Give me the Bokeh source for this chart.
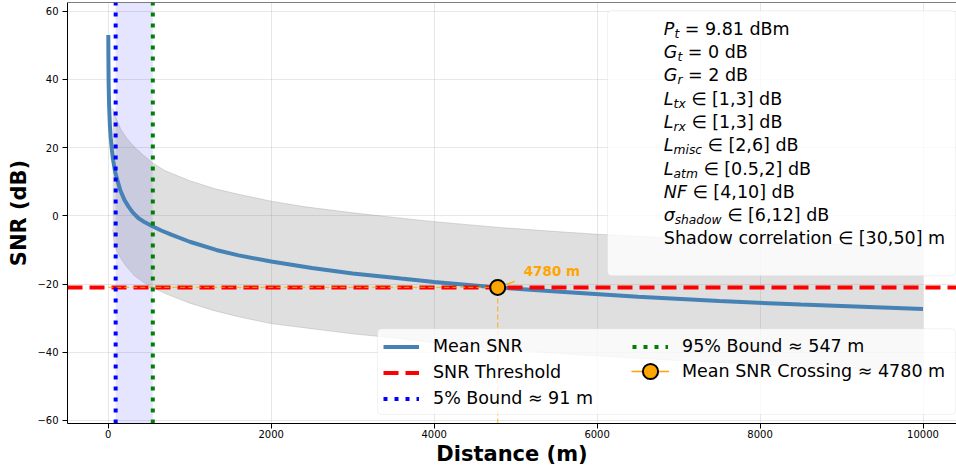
from bokeh.plotting import figure
from bokeh.models import (Range1d, FixedTicker, BoxAnnotation, Label, Legend,
                          LegendItem, Span)
from bokeh.embed import file_html
from bokeh.resources import INLINE

# ---------------- data ----------------
dist_mean = [1, 2, 5, 10, 20, 30, 45, 60, 86, 120, 147, 200, 249, 300, 372, 450,
             536, 650, 781, 1000, 1325, 1600, 2000, 2500, 3000, 3595, 4000, 4780,
             5500, 6500, 7500, 8500, 10000]
snr_mean = [53.0, 47.0, 38.8, 32.8, 26.6, 23.0, 19.3, 16.3, 12.8, 9.8, 7.6, 4.6,
            2.7, 1.0, -0.7, -1.9, -3.0, -4.3, -5.6, -7.6, -10.0, -11.6, -13.4,
            -15.3, -16.9, -18.4, -19.4, -21.0, -22.2, -23.7, -25.0, -26.0, -27.3]

dist_band = [55, 70, 98, 150, 220, 320, 430, 547, 700, 1000, 1300, 1600, 2000,
             2400, 3000, 3600, 4000, 4800, 5500, 6000, 7000, 8000, 9000, 10000]
band_upper = [31.5, 30.0, 28.5, 25.6, 23.0, 20.2, 17.8, 15.5, 13.2, 10.3, 8.0, 6.3,
              4.3, 2.7, 0.9, -0.7, -1.7, -3.4, -4.6, -5.4, -6.6, -7.6, -8.4, -9.1]
band_lower = [-4.0, -7.5, -10.0, -12.3, -14.8, -17.5, -19.5, -21.0, -22.8, -25.6,
              -27.8, -29.6, -31.6, -32.8, -34.6, -36.0, -37.2, -39.0, -40.3, -41.1,
              -42.4, -43.6, -44.6, -45.4]

snr_threshold = -21.0
bound_5 = 91
bound_95 = 547
crossing = 4780

x_ticks = [0, 2000, 4000, 6000, 8000, 10000]
y_ticks = [-60, -40, -20, 0, 20, 40, 60]
y_tick_labels = ["\u221260", "\u221240", "\u221220", "0", "20", "40", "60"]

legend_labels = ["Mean SNR", "SNR Threshold", "5% Bound \u2248 91 m",
                 "95% Bound \u2248 547 m", "Mean SNR Crossing \u2248 4780 m"]
crossing_label = "4780 m"

param_lines = [
    ("P", "t", "= 9.81 dBm"),
    ("G", "t", "= 0 dB"),
    ("G", "r", "= 2 dB"),
    ("L", "tx", "\u2208 [1,3] dB"),
    ("L", "rx", "\u2208 [1,3] dB"),
    ("L", "misc", "\u2208 [2,6] dB"),
    ("L", "atm", "\u2208 [0.5,2] dB"),
    ("NF", "", "\u2208 [4,10] dB"),
    ("\u03c3", "shadow", "\u2208 [6,12] dB"),
    ("", "", "Shadow correlation \u2208 [30,50] m"),
]

# ---------------- layout ----------------
FIG_W, FIG_H = 956, 468
B_LEFT, B_BOTTOM, B_TOP = 67, 44, 2
FRAME_W, FRAME_H = FIG_W - B_LEFT, FIG_H - B_BOTTOM - B_TOP
X_START, X_END = -500, 10411
Y_START, Y_END = -60.88, 62.54
FONT = "DejaVu Sans"

p = figure(width=FIG_W, height=FIG_H, output_backend="svg", toolbar_location=None,
           x_range=Range1d(X_START, X_END), y_range=Range1d(Y_START, Y_END),
           min_border_left=B_LEFT, min_border_right=0, min_border_top=B_TOP,
           min_border_bottom=B_BOTTOM, background_fill_color="white",
           border_fill_color="white")
p.outline_line_color = None

# axes
p.xaxis.ticker = FixedTicker(ticks=x_ticks)
p.yaxis.ticker = FixedTicker(ticks=y_ticks)
p.xgrid.ticker = FixedTicker(ticks=x_ticks)
p.ygrid.ticker = FixedTicker(ticks=y_ticks)
p.yaxis.major_label_overrides = {t: l for t, l in zip(y_ticks, y_tick_labels)}
p.axis.minor_tick_line_color = None
p.axis.major_tick_out = 5
p.axis.major_tick_in = 0
p.axis.major_tick_line_color = "black"
p.axis.axis_line_color = "black"
p.axis.axis_line_width = 1
p.axis.major_label_text_font = FONT
p.axis.major_label_text_font_size = "10px"
p.axis.major_label_text_color = "black"
p.xaxis.major_label_standoff = 1
p.yaxis.major_label_standoff = 4
p.xaxis.axis_label = "Distance (m)"
p.yaxis.axis_label = "SNR (dB)"
p.axis.axis_label_text_font = FONT
p.axis.axis_label_text_font_size = "21px"
p.axis.axis_label_text_font_style = "bold"
p.axis.axis_label_text_color = "black"
p.xaxis.axis_label_standoff = 1
p.yaxis.axis_label_standoff = 3
p.grid.grid_line_color = "#b0b0b0"
p.grid.grid_line_alpha = 0.3
p.grid.grid_line_width = 1

# top spine
p.add_layout(Span(location=Y_END, dimension="width", line_color="black", line_width=1.2))

# shaded region between the bounds
p.add_layout(BoxAnnotation(left=bound_5, right=bound_95, fill_color="blue",
                           fill_alpha=0.1, line_color=None, level="underlay"))

# percentile band
p.varea(x=dist_band, y1=band_lower, y2=band_upper, fill_color="gray", fill_alpha=0.25)
p.line(dist_band, band_upper, line_color="gray", line_alpha=0.25, line_width=1)
p.line(dist_band, band_lower, line_color="gray", line_alpha=0.25, line_width=1)

r_mean = p.line(dist_mean, snr_mean, line_color="#4682b4", line_width=4)
r_thr = p.line([X_START, X_END], [snr_threshold, snr_threshold], line_color="red",
               line_width=4, line_dash="15 7")
p.line([0, crossing], [snr_threshold, snr_threshold], line_color="orange",
       line_width=1.2, line_alpha=0.75, line_dash="5 3")
p.line([crossing, crossing], [Y_START, snr_threshold], line_color="orange",
       line_width=1.2, line_alpha=0.75, line_dash="5 3")
r_b5 = p.line([bound_5, bound_5], [Y_START, Y_END], line_color="blue",
              line_width=4, line_dash="4 7")
r_b95 = p.line([bound_95, bound_95], [Y_START, Y_END], line_color="green",
               line_width=4, line_dash="4 7")

# annotation arrow + marker
m_per_px = (X_END - X_START) / FRAME_W
db_per_px = (Y_END - Y_START) / FRAME_H
p.segment(x0=[crossing], y0=[snr_threshold], x1=[crossing + 17 * m_per_px],
          y1=[snr_threshold + 6 * db_per_px], line_color="orange", line_width=1.3)
r_cross_line = p.line([crossing], [snr_threshold], line_color="orange", line_width=1.5)
r_cross_pt = p.scatter([crossing], [snr_threshold], size=15, fill_color="orange",
                       line_color="black", line_width=2)
p.add_layout(Label(x=crossing, y=snr_threshold, x_offset=26, y_offset=16,
                   text=crossing_label, text_font=FONT, text_font_size="13.5px",
                   text_font_style="bold", text_color="orange",
                   text_baseline="middle", text_align="left"))

# parameter text box
p.add_layout(BoxAnnotation(left=6128, right=10399, top=60.2, bottom=-17.6,
                           fill_color="white", fill_alpha=0.8, line_color="#d0d0d0",
                           line_width=1, border_radius=4))
W = {"P": .603, "G": .775, "L": .557, "N": .748, "F": .575, "\u03c3": .62,
     "t": .392, "r": .411, "x": .592, "m": .974, "i": .278, "s": .521, "c": .550,
     "a": .613, "h": .634, "d": .635, "o": .612, "w": .818}
MAIN_PX, SUB_PX, SPACE = 17.5, 12.25, 0.318
TX, TY, LINE_H = 6819, 54.85, 23.3
for i, (main, sub, rest) in enumerate(param_lines):
    yo = -LINE_H * i
    off = 0.0
    if main:
        p.add_layout(Label(x=TX, y=TY, x_offset=0, y_offset=yo, text=main,
                           text_font=FONT, text_font_size="17.5px",
                           text_font_style="italic", text_baseline="middle",
                           text_color="black"))
        off = sum(W[c] for c in main) * MAIN_PX
        if sub:
            p.add_layout(Label(x=TX, y=TY, x_offset=off, y_offset=yo - 5, text=sub,
                               text_font=FONT, text_font_size="12.25px",
                               text_font_style="italic", text_baseline="middle",
                               text_color="black"))
            off += sum(W[c] for c in sub) * SUB_PX
        off += SPACE * MAIN_PX
    p.add_layout(Label(x=TX, y=TY, x_offset=off, y_offset=yo, text=rest,
                       text_font=FONT, text_font_size="17.5px",
                       text_baseline="middle", text_color="black"))

# legend background
p.add_layout(BoxAnnotation(left=3305, right=10399, top=-33.1, bottom=-58.25,
                           fill_color="white", fill_alpha=0.8, line_color="#d0d0d0",
                           line_width=1, border_radius=4))

common = dict(orientation="vertical", spacing=5, padding=6, margin=0,
              background_fill_alpha=0, border_line_color=None,
              label_text_font=FONT, label_text_font_size="17.5px",
              label_text_color="black", label_height=21)

leg1 = Legend(items=[LegendItem(label=legend_labels[0], renderers=[r_mean]),
                     LegendItem(label=legend_labels[1], renderers=[r_thr]),
                     LegendItem(label=legend_labels[2], renderers=[r_b5])],
              location=(316, 14.5), glyph_width=36, glyph_height=21,
              label_standoff=14, **common)
leg2 = Legend(items=[LegendItem(label=legend_labels[3], renderers=[r_b95])],
              location=(565, 66.5), glyph_width=36, glyph_height=21,
              label_standoff=14, **common)
leg3 = Legend(items=[LegendItem(label=legend_labels[4],
                                renderers=[r_cross_line, r_cross_pt])],
              location=(564, 33), glyph_width=38, glyph_height=38,
              label_standoff=13, **common)
for lg in (leg1, leg2, leg3):
    p.add_layout(lg)

open("out.html", "w").write(file_html(p, INLINE))
